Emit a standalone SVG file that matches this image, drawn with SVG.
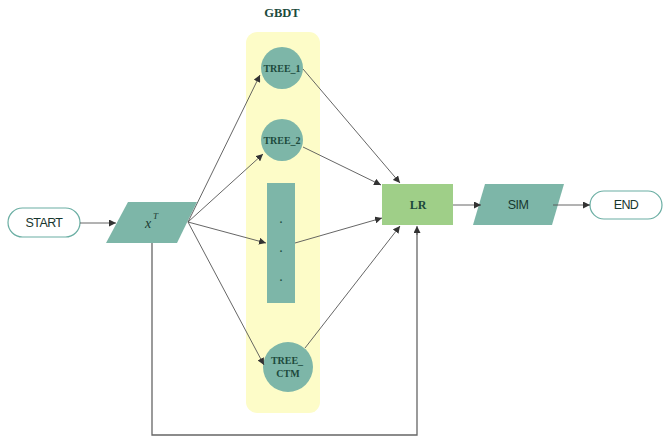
<svg xmlns="http://www.w3.org/2000/svg" width="672" height="443" viewBox="0 0 672 443">
<defs>
<marker id="ah" viewBox="0 0 10 10" refX="10" refY="5" markerWidth="7" markerHeight="7" markerUnits="userSpaceOnUse" orient="auto">
<path d="M0,0 L10,5 L0,10 Z" fill="#333"/>
</marker>
<style>
.teal{fill:#7db6a8;}
.term{fill:#fff;stroke:#6aaea3;stroke-width:1.2;}
.sans{font-family:"Liberation Sans",Arial,sans-serif;font-size:12.5px;fill:#17362e;letter-spacing:-0.6px;}
.serif{font-family:"Liberation Serif","Times New Roman",serif;font-weight:bold;font-size:10px;fill:#1c4a3c;}
.conn{stroke:#555;stroke-width:0.9;fill:none;marker-end:url(#ah);}
.plain{stroke:#666;stroke-width:1.3;fill:none;}
</style>
</defs>
<rect width="672" height="443" fill="#fff"/>
<g id="gbdt">
<rect x="246" y="32" width="74" height="381" rx="11" fill="#fdfcc8"/>
<text x="282" y="17" text-anchor="middle" class="serif" style="font-size:12.5px">GBDT</text>
</g>
<g id="start">
<rect class="term" x="8" y="208" width="72" height="29" rx="14.5"/>
<text x="44" y="227" text-anchor="middle" class="sans">START</text>
</g>
<g id="xt">
<polygon class="teal" points="128,202 197,202 177,243 106,243"/>
<text x="145" y="228" font-family="Liberation Serif,serif" font-style="italic" font-size="14" fill="#1c3a32">x</text>
<text x="153" y="219" font-family="Liberation Serif,serif" font-style="italic" font-size="9" fill="#1c3a32">T</text>
</g>
<g id="tree1">
<circle class="teal" cx="282" cy="68" r="21"/>
<text x="282" y="72" text-anchor="middle" class="serif">TREE_1</text>
</g>
<g id="tree2">
<circle class="teal" cx="282" cy="140" r="21"/>
<text x="282" y="144" text-anchor="middle" class="serif">TREE_2</text>
</g>
<g id="dots">
<rect class="teal" x="267" y="183" width="28" height="120"/>
<text x="281" y="223" text-anchor="middle" class="serif">.</text>
<text x="281" y="252" text-anchor="middle" class="serif">.</text>
<text x="281" y="281" text-anchor="middle" class="serif">.</text>
</g>
<g id="treectm">
<circle class="teal" cx="288" cy="367" r="25"/>
<text x="287" y="364" text-anchor="middle" class="serif">TREE_</text>
<text x="288" y="377" text-anchor="middle" class="serif">CTM</text>
</g>
<g id="lr">
<rect x="382" y="184" width="71" height="41" fill="#9fcf88"/>
<text x="418" y="209" text-anchor="middle" class="serif" style="font-size:12px">LR</text>
</g>
<g id="sim">
<polygon class="teal" points="485,184 564,184 552,225 473,225"/>
<text x="518" y="209" text-anchor="middle" class="sans">SIM</text>
</g>
<g id="end">
<rect class="term" x="590" y="191" width="72" height="28" rx="14"/>
<text x="626" y="209" text-anchor="middle" class="sans">END</text>
</g>
<g id="connectors">
<line class="conn" x1="80" y1="223" x2="116" y2="223"/>
<line class="conn" x1="188" y1="222" x2="260" y2="75"/>
<line class="conn" x1="188" y1="222" x2="263" y2="154"/>
<line class="conn" x1="188" y1="222" x2="266" y2="243"/>
<line class="conn" x1="188" y1="222" x2="264" y2="365"/>
<line class="conn" x1="303" y1="69" x2="400" y2="183"/>
<line class="conn" x1="303" y1="147" x2="381" y2="185"/>
<line class="conn" x1="295" y1="243" x2="382" y2="218"/>
<line class="conn" x1="305" y1="348" x2="400" y2="226"/>
<line class="conn" x1="453" y1="205" x2="481" y2="205"/>
<line class="conn" x1="553" y1="205" x2="590" y2="205"/>
<polyline class="plain" points="152,243 152,435 417,435 417,232"/>
<line class="conn" x1="417" y1="235" x2="417" y2="226"/>
</g>
</svg>
